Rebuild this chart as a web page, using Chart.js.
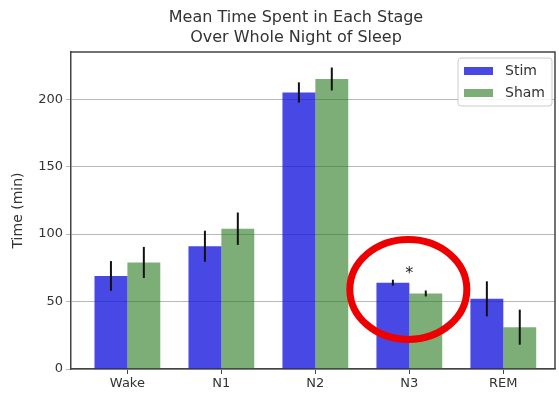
<!DOCTYPE html>
<html>
<head>
<meta charset="utf-8">
<script src="https://cdn.jsdelivr.net/npm/chart.js@4"></script>
<style>
    html, body { margin: 0; padding: 0; background: #fff; }
    #wrap { width: 559px; height: 395px; }
</style>
</head>
<body>
<div id="wrap"><canvas id="sleepChart" width="559" height="395"></canvas></div>
<script>
// values (minutes)
const stages = ['Wake', 'N1', 'N2', 'N3', 'REM']
const stimMean = [69, 91, 205, 64, 52]
const stimErr = [11, 11.5, 7.5, 2.2, 13]
const shamMean = [79, 104, 215, 56, 31]
const shamErr = [11.5, 12, 8.5, 2.2, 13]
const sigMarks = ['', '', '', '*', '']
const sigLevel = [0, 0, 0, 73, 0]
const yTicks = [0, 50, 100, 150, 200]
const titleLines = ['Mean Time Spent in Each Stage', 'Over Whole Night of Sleep']
const highlightStage = 3   // red ring drawn round N3
const highlightLevel = 59

const FONT = "'DejaVu Sans', sans-serif"
const textColor = '#333'
const stimColor = 'rgba(20, 20, 220, 0.78)'
const shamColor = 'rgba(40, 120, 30, 0.6)'

const toPoints = (arr) => arr.map((v, i) => ({ x: i, y: v }))

// error bars, significance mark, frame, legend, title and the red ring
const extrasPlugin = {
    id: 'extras',
    afterDatasetsDraw(chart) {
        const ctx = chart.ctx
        const y = chart.scales.y
        const errs = [stimErr, shamErr]
        ctx.save()
        ctx.strokeStyle = '#111'
        ctx.lineWidth = 2
        chart.data.datasets.forEach((ds, d) => {
            const meta = chart.getDatasetMeta(d)
            meta.data.forEach((bar, i) => {
                const v = ds.data[i].y
                ctx.beginPath()
                ctx.moveTo(bar.x, y.getPixelForValue(v + errs[d][i]))
                ctx.lineTo(bar.x, y.getPixelForValue(v - errs[d][i]))
                ctx.stroke()
            })
        })
        // significance
        ctx.fillStyle = '#222'
        ctx.font = '16px ' + FONT
        ctx.textAlign = 'center'
        ctx.textBaseline = 'middle'
        sigMarks.forEach((m, i) => {
            if (!m) return
            ctx.fillText(m, chart.scales.x.getPixelForValue(i), y.getPixelForValue(sigLevel[i]) + 3)
        })
        ctx.restore()
    },
    afterDraw(chart) {
        const ctx = chart.ctx
        const a = chart.chartArea
        ctx.save()
        // top and right spines
        ctx.strokeStyle = '#444'
        ctx.lineWidth = 1.5
        ctx.beginPath()
        ctx.moveTo(a.left, a.top)
        ctx.lineTo(a.right, a.top)
        ctx.lineTo(a.right, a.bottom)
        ctx.stroke()

        // legend
        const bx = a.right - 97, by = a.top + 6, bw = 94, bh = 48
        ctx.fillStyle = 'rgba(255,255,255,0.85)'
        ctx.strokeStyle = '#cccccc'
        ctx.lineWidth = 1
        ctx.beginPath()
        ctx.roundRect(bx, by, bw, bh, 3)
        ctx.fill()
        ctx.stroke()
        const items = [['Stim', stimColor], ['Sham', shamColor]]
        ctx.font = '14px ' + FONT
        ctx.textBaseline = 'middle'
        ctx.textAlign = 'left'
        items.forEach((it, k) => {
            const cy = by + 13 + k * 22
            ctx.fillStyle = it[1]
            ctx.fillRect(bx + 6, cy - 4, 29, 8)
            ctx.fillStyle = textColor
            ctx.fillText(it[0], bx + 47, cy)
        })

        // title
        ctx.fillStyle = textColor
        ctx.font = '16px ' + FONT
        ctx.textAlign = 'center'
        titleLines.forEach((t, k) => {
            ctx.fillText(t, 296, 18 + k * 20)
        })

        // red ring marking the N3 result
        const cx = chart.scales.x.getPixelForValue(highlightStage) - 1
        const cy = chart.scales.y.getPixelForValue(highlightLevel)
        ctx.strokeStyle = '#ee0000'
        ctx.lineWidth = 7
        ctx.beginPath()
        ctx.ellipse(cx, cy, 58.5, 50, 0, 0, Math.PI * 2)
        ctx.stroke()
        ctx.restore()
    }
}

const ctx = document.getElementById('sleepChart').getContext('2d')

new Chart(ctx, {
    type: 'bar',
    data: {
        datasets: [
            { label: 'Stim', data: toPoints(stimMean), backgroundColor: stimColor },
            { label: 'Sham', data: toPoints(shamMean), backgroundColor: shamColor }
        ]
    },
    options: {
        responsive: false,
        animation: false,
        maintainAspectRatio: false,
        categoryPercentage: 0.7,
        barPercentage: 1.0,
        layout: { padding: { left: 0, top: 52, right: 4, bottom: 0 } },
        plugins: {
            legend: { display: false },
            title: { display: false },
            tooltip: { enabled: false }
        },
        scales: {
            x: {
                type: 'linear',
                min: -0.6,
                max: 4.55,
                offset: false,
                afterFit: (s) => { s.height = 26 },
                afterBuildTicks: (s) => { s.ticks = stages.map((c, i) => ({ value: i })) },
                ticks: {
                    autoSkip: false,
                    maxRotation: 0,
                    padding: 2,
                    color: textColor,
                    font: { family: FONT, size: 13 },
                    callback: (v) => stages[v] ?? ''
                },
                grid: { offset: false, drawOnChartArea: false, drawTicks: true, tickLength: 5, color: '#444' },
                border: { display: true, color: '#444', width: 1.5 }
            },
            y: {
                min: 0,
                max: 235,
                afterFit: (s) => { s.width = 71 },
                afterBuildTicks: (s) => { s.ticks = yTicks.map(v => ({ value: v })) },
                ticks: {
                    padding: 3,
                    color: textColor,
                    font: { family: FONT, size: 13 }
                },
                grid: { color: '#b8b8b8', lineWidth: 1, tickLength: 5 },
                border: { display: true, color: '#444', width: 1.5 },
                title: {
                    display: true,
                    text: 'Time (min)',
                    color: textColor,
                    font: { family: FONT, size: 14 },
                    padding: { top: 10, bottom: 0 }
                }
            }
        }
    },
    plugins: [extrasPlugin]
})
</script>
</body>
</html>
